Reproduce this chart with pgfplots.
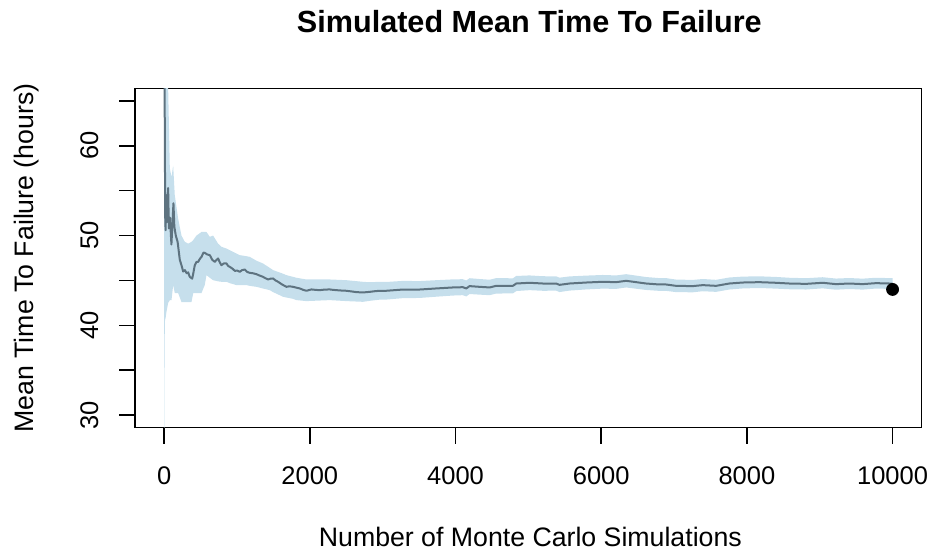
\documentclass[border=0pt]{standalone}
\usepackage{pgfplots}
\pgfplotsset{compat=1.18}
\usepgfplotslibrary{fillbetween}
\usepackage{pgfplotstable}
\usepackage{fontspec}
\setmainfont{Liberation Sans}
\definecolor{bandcol}{HTML}{C6DFEC}
\definecolor{linecol}{HTML}{5E7380}

\pgfplotstableread{
x m
1 130
3 85
6 68
10 60
15 52
20 50.6
30 54.5
40 51.5
55 55.3
65 50.8
80 52.0
100 49.0
115 51.5
128 53.6
140 51.0
160 50.0
185 49.3
215 47.3
238 46.7
261 46.0
284 46.15
310 45.8
330 45.9
352 45.4
385 45.2
398 45.7
421 46.7
444 47.07
467 47.07
490 47.4
513 47.63
540 48.1
558 48.08
590 47.9
627 47.82
660 47.3
696 47.07
720 47.3
741 47.45
765 47.0
787 46.7
820 46.9
856 46.89
880 46.6
901 46.52
940 46.3
970 46.07
1005 46.1
1038 45.96
1070 46.15
1107 46.22
1140 45.95
1175 45.85
1220 45.8
1267 45.70
1310 45.55
1358 45.40
1390 45.25
1427 45.11
1460 45.2
1496 45.22
1530 45.0
1564 44.85
1620 44.55
1679 44.29
1720 44.35
1770 44.29
1815 44.2
1861 44.11
1910 43.95
1953 43.85
2022 44.0
2080 43.95
2136 43.92
2200 43.98
2273 44.0
2320 43.95
2365 43.92
2430 43.88
2502 43.85
2570 43.78
2639 43.70
2690 43.68
2730 43.66
2780 43.70
2822 43.73
2890 43.80
2959 43.85
3050 43.85
3279 43.99
3507 43.99
3736 44.11
3965 44.22
4100 44.25
4148 44.11
4193 44.37
4331 44.29
4468 44.22
4559 44.40
4788 44.40
4834 44.66
5016 44.74
5199 44.66
5382 44.66
5428 44.51
5565 44.66
5794 44.77
6022 44.85
6205 44.81
6343 44.96
6480 44.81
6617 44.66
6800 44.55
6891 44.55
7028 44.40
7257 44.37
7394 44.48
7577 44.40
7760 44.66
7943 44.77
8171 44.81
8400 44.74
8583 44.66
8812 44.62
9040 44.74
9223 44.59
9406 44.66
9589 44.59
9772 44.70
9955 44.66
10000 44.66
}\meantable

\pgfplotstableread{
x lo hi
1 15 250
3 30 140
6 38 100
12 40.6 80
20 40.8 72
32 41.5 68
55 42.5 66.5
78 42.8 57.5
101 42.8 56.5
124 44.5 57.8
146 43.6 54.5
192 43.6 51.9
238 42.6 50.0
284 42.6 49.3
330 42.6 49.1
375 42.6 49.3
400 43.6 49.5
444 43.6 50.0
513 43.6 50.4
558 44.5 50.42
581 45.59 50.4
627 45.3 49.86
672 45.03 50.0
741 44.9 49.1
787 44.85 48.75
856 44.85 48.55
901 44.7 48.37
993 44.48 48.0
1038 44.48 47.82
1130 44.48 47.7
1175 44.4 47.63
1267 44.29 47.2
1358 44.1 46.89
1450 43.92 46.4
1496 43.7 46.15
1633 43.18 45.75
1679 43.1 45.59
1770 42.95 45.40
1816 42.81 45.3
1953 42.70 45.11
2273 42.81 45.11
2502 42.7 45.03
2730 42.62 44.85
2822 42.73 44.80
2959 42.86 44.85
3050 42.87 44.83
3279 43.03 44.95
3507 43.05 44.93
3736 43.19 45.03
3965 43.32 45.12
4100 43.36 45.14
4148 43.22 45.00
4193 43.49 45.25
4331 43.42 45.16
4468 43.36 45.08
4559 43.54 45.26
4788 43.56 45.24
4834 43.82 45.50
5016 43.92 45.56
5199 43.85 45.47
5382 43.86 45.46
5428 43.71 45.31
5565 43.87 45.45
5794 44.00 45.54
6022 44.09 45.61
6205 44.06 45.56
6343 44.22 45.70
6480 44.08 45.54
6617 43.94 45.38
6800 43.84 45.26
6891 43.84 45.26
7028 43.70 45.10
7257 43.68 45.06
7394 43.80 45.16
7577 43.73 45.07
7760 43.99 45.33
7943 44.11 45.43
8171 44.16 45.46
8400 44.09 45.39
8583 44.02 45.30
8812 43.99 45.25
9040 44.12 45.36
9223 43.97 45.21
9406 44.05 45.27
9589 43.98 45.20
9772 44.10 45.30
9955 44.06 45.26
10000 44.06 45.26
}\bandtable

\begin{document}
\begin{tikzpicture}
\begin{axis}[
  name=ax, at={(0,0)}, anchor=south west,
  scale only axis, width=393.35pt, height=169.7pt,
  xmin=-400, xmax=10400, ymin=28.6, ymax=66.4,
  axis line style={line width=0.75pt},
  xtick={0,2000,4000,6000,8000,10000},
  ytick={30,35,40,45,50,55,60,65},
  yticklabels={30,,40,,50,,60,},
  tick align=outside, tick pos=left, major tick length=8pt,
  tick style={line width=0.75pt, black},
  scaled x ticks=false,
  /pgf/number format/assume math mode=true,
  /pgf/number format/1000 sep={},
  every tick label/.append style={font=\fontsize{12.75}{15}\selectfont},
  xticklabel style={anchor=north, yshift=-8pt},
  yticklabel style={rotate=90, anchor=south, yshift=6.8pt},
]
\addplot[name path=hi, draw=none, forget plot] table[x=x, y=hi]{\bandtable};
\addplot[name path=lo, draw=none, forget plot] table[x=x, y=lo]{\bandtable};
\addplot[bandcol, draw=none] fill between[of=hi and lo];
\addplot[linecol, line width=1pt, line join=round] table[x=x, y=m]{\meantable};
\addplot[only marks, mark=*, mark size=3pt, black] coordinates {(10000,44.0)};
\end{axis}
\node[anchor=base, font=\bfseries\fontsize{15.3}{18}\selectfont] at ([xshift=0.5pt, yshift=28pt]ax.north) {Simulated Mean Time To Failure};
\node[anchor=base, font=\fontsize{13.35}{16}\selectfont] at ([xshift=1pt, yshift=-59.4pt]ax.south) {Number of Monte Carlo Simulations};
\node[rotate=90, anchor=base, font=\fontsize{13.35}{16}\selectfont] at ([xshift=-50.85pt]ax.west) {Mean Time To Failure (hours)};
\pgfresetboundingbox
\path[use as bounding box] (-67.5pt,-63.15pt) rectangle (399pt,213.85pt);
\end{tikzpicture}
\end{document}
